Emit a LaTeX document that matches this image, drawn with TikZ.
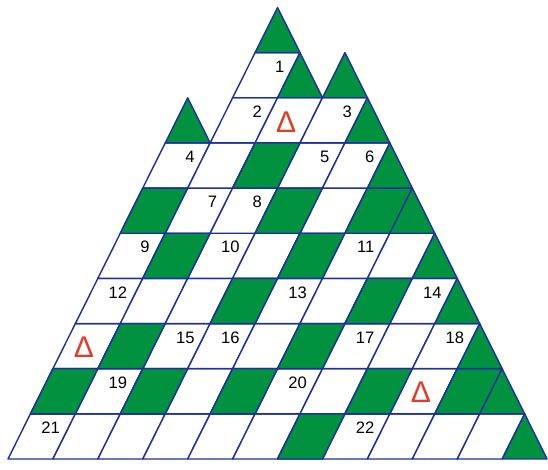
\documentclass[tikz,border=0pt]{standalone}
\usepackage{fontspec}
\setmainfont{Liberation Sans}
\usetikzlibrary{positioning}
\definecolor{leaf}{HTML}{00923F}
\definecolor{grid}{HTML}{1E30A0}
\definecolor{delta}{HTML}{E03C28}
\tikzset{cell/.style={draw=grid,line width=.9pt,line join=round},
  num/.style={anchor=east,inner sep=0pt,font=\fontsize{10.5}{12}\selectfont},
  tri/.style={text=delta,inner sep=0pt,font=\fontsize{19}{20}\selectfont}}

\begin{document}
\begin{tikzpicture}[x=1cm,y=1.005cm]
\useasboundingbox (-.178,-.2436) rectangle (12.02,10.166);
% white rows first, green cells on top
\foreach \r/\a/\b in {0/0/10,1/0/9,2/0/8,3/0/7,4/0/6,5/0/5,6/0/4,7/1/3,8/1/1}{
  \foreach \i in {\a,...,\b}{\filldraw[cell,fill=white] ({.5*\r+\i},\r)--++(1,0)--++(.5,1)--++(-1,0)--cycle;}}
\foreach \r/\i in {6/2,5/0,5/3,5/5,4/1,4/4,3/3,3/6,2/1,2/5,1/0,1/2,1/4,1/7,1/9,0/6}{
  \filldraw[cell,fill=leaf] ({.5*\r+\i},\r)--++(1,0)--++(.5,1)--++(-1,0)--cycle;}
\foreach \r/\i in {9/1,8/2,8/3,7/0,7/4,6/5,5/6,4/7,3/8,2/9,1/10,0/11}{
  \filldraw[cell,fill=leaf] ({.5*\r+\i},\r)--++(1,0)--++(-.5,1)--cycle;}
% numbers, top right of each cell
\foreach \r/\i/\n in {8/1/1,7/1/2,7/3/3,6/0/4,6/3/5,6/4/6,5/1/7,5/2/8,4/0/9,4/2/10,4/5/11,3/0/12,3/4/13,3/7/14,
  2/2/15,2/3/16,2/6/17,2/8/18,1/1/19,1/5/20,0/0/21,0/7/22}{
  \node[num] (n\n) at ({.5*\r+\i+1.16},\r+.69) {\n};}
\foreach \r/\i in {7/2,2/0,1/8}{\node[tri] (d\r) at ({.5*\r+\i+.69},\r+.47) {Δ};}
\end{tikzpicture}
\end{document}
